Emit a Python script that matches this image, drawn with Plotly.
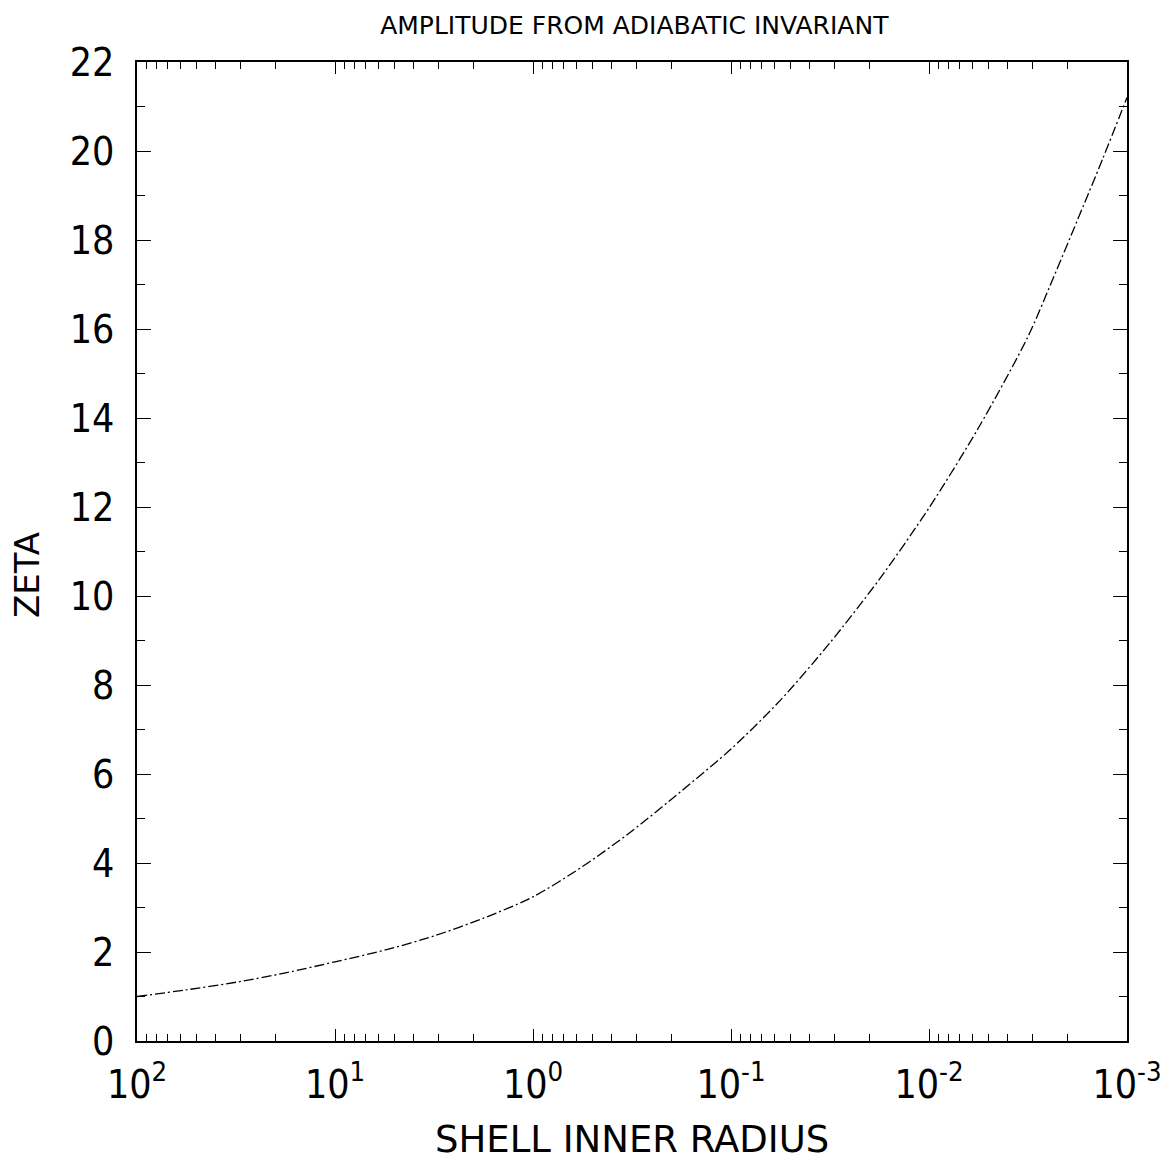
import plotly.graph_objects as go

# Data (x = shell inner radius, log scale; y = zeta)
log_radius = [2.0, 1.75, 1.5, 1.25, 1.0, 0.75, 0.5, 0.25, 0.0, -0.25, -0.5, -0.75,
              -1.0, -1.25, -1.5, -1.75, -2.0, -2.25, -2.5, -2.625, -2.75, -2.875, -3.0]
zeta = [1.0, 1.15, 1.32, 1.53, 1.78, 2.04, 2.36, 2.76, 3.24, 3.92, 4.72, 5.62,
        6.56, 7.66, 8.95, 10.38, 11.98, 13.78, 15.83, 17.12, 18.45, 19.8, 21.2]
radius = [10 ** v for v in log_radius]

x_tick_vals = [100, 10, 1, 0.1, 0.01, 0.001]
x_tick_text = ["10<sup>2</sup>", "10<sup>1</sup>", "10<sup>0</sup>",
               "10<sup>-1</sup>", "10<sup>-2</sup>", "10<sup>-3</sup>"]
y_tick_vals = list(range(0, 23, 2))

NUMFONT = "DejaVu Sans Condensed, DejaVu Sans, sans-serif"
TXTFONT = "DejaVu Sans, sans-serif"

fig = go.Figure()
fig.add_trace(go.Scatter(
    x=radius, y=zeta, mode="lines",
    line=dict(color="black", width=1.3, dash="10px,3px,2px,3px",
              shape="spline", smoothing=0.8),
    showlegend=False,
))

# page body has an 8px margin, so the figure is 1162 px and margins are offset
fig.update_layout(
    width=1162, height=1162,
    paper_bgcolor="white", plot_bgcolor="white",
    margin=dict(l=129, r=43, t=54, b=129, autoexpand=False),
    title=dict(text="AMPLITUDE FROM ADIABATIC INVARIANT", x=0.539, xanchor="center",
               y=0.9855, yanchor="middle",
               font=dict(family=TXTFONT, size=25, color="black")),
    font=dict(family=NUMFONT, color="black"),
    annotations=[
        dict(text="SHELL INNER RADIUS", xref="paper", yref="paper",
             x=0.5, y=-0.101, xanchor="center", yanchor="middle", showarrow=False,
             font=dict(family=TXTFONT, size=37, color="black")),
        dict(text="ZETA", xref="paper", yref="paper", textangle=-90,
             x=-0.111, y=0.476, xanchor="center", yanchor="middle", showarrow=False,
             font=dict(family=TXTFONT, size=34, color="black")),
    ],
)

fig.update_xaxes(
    type="log", range=[2, -3], showgrid=False, zeroline=False, automargin=False,
    showline=True, linecolor="black", linewidth=1.5, mirror="ticks",
    ticks="inside", ticklen=12, tickwidth=1.3, tickcolor="black",
    tickvals=x_tick_vals, ticktext=x_tick_text,
    tickfont=dict(family=NUMFONT, size=39, color="black"),
    ticklabelstandoff=8,
    minor=dict(ticks="inside", ticklen=7, tickwidth=1.2, tickcolor="black",
               dtick="D1", showgrid=False),
)

fig.update_yaxes(
    range=[0, 22], showgrid=False, zeroline=False, automargin=False,
    showline=True, linecolor="black", linewidth=1.5, mirror="ticks",
    ticks="inside", ticklen=14, tickwidth=1.3, tickcolor="black",
    tickvals=y_tick_vals,
    tickfont=dict(family=NUMFONT, size=39, color="black"),
    ticklabelstandoff=13,
    minor=dict(ticks="inside", ticklen=8, tickwidth=1.2, tickcolor="black",
               dtick=1, showgrid=False),
)

fig.write_html("out.html")
